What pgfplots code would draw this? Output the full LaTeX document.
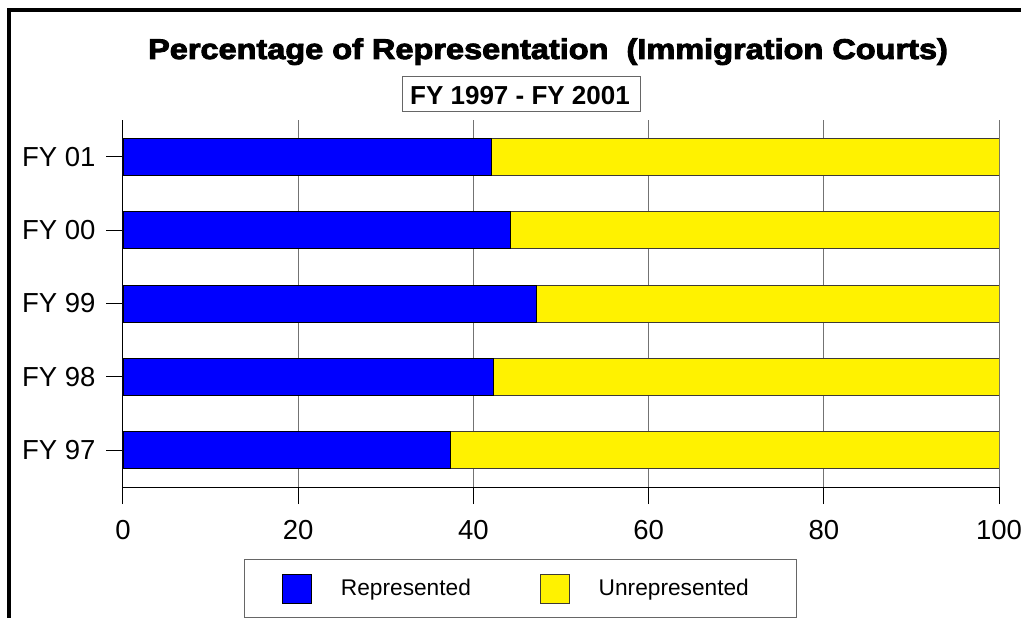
\documentclass[border=0pt]{standalone}
\usepackage{fontspec}
\setmainfont{Liberation Sans}
\newfontfamily\heavyfont[FakeBold=3]{Liberation Sans Bold}
\usepackage{pgfplots}
\pgfplotsset{compat=1.18}
\begin{document}
\begin{tikzpicture}
\path[use as bounding box] (0pt,0pt) rectangle (1021pt,-618pt);
\fill[white] (0pt,0pt) rectangle (1021pt,-618pt);
\draw[line width=3.5pt] (9pt,-618pt) -- (9pt,-10pt) -- (1021pt,-10pt);
\node[font=\fontsize{28.5}{32}\heavyfont, anchor=base, inner sep=0pt, xscale=1.14] at (548pt,-59pt) {Percentage of Representation\ \ (Immigration Courts)};
\draw[black!60, line width=1pt] (402pt,-77pt) rectangle (640pt,-112pt);
\node[font=\fontsize{26}{30}\selectfont\bfseries, anchor=base, inner sep=0pt] at (520pt,-104.5pt) {FY 1997 - FY 2001};
\begin{axis}[
  at={(123pt,-487pt)}, anchor=south west,
  scale only axis, width=876pt, height=367pt,
  xbar stacked, bar width=37pt,
  xmin=0, xmax=100, ymin=-0.5, ymax=4.5,
  axis x line*=bottom, axis y line*=left,
  axis line style={-, black, line width=1pt},
  xtick={0,20,40,60,80,100},
  xticklabels={0,20,40,60,80,100},
  ytick={0,1,2,3,4},
  yticklabels={FY 97,FY 98,FY 99,FY 00,FY 01},
  tick align=outside, major tick length=17pt,
  tick style={black, line width=1pt},
  xmajorgrids, grid style={black!55, line width=1pt},
  ticklabel style={font=\fontsize{27.5}{32}\selectfont},
  xticklabel style={yshift=-13pt},
  yticklabel style={xshift=-7pt},
  legend columns=2,
  legend style={at={(rel axis cs:0.4538,-0.2766)}, anchor=center,
    draw=black!60, line width=1pt,
    font=\fontsize{22.7}{27}\selectfont,
    inner xsep=38pt, inner ysep=14pt,
    /tikz/every odd column/.append style={column sep=29pt},
    /tikz/every even column/.append style={column sep=69pt},
    nodes={inner xsep=0pt, inner ysep=0pt}},
  legend image code/.code={\draw[#1, line width=0.8pt] (0pt,-14.5pt) rectangle (29pt,14.5pt);},
]
\addplot[fill=blue, draw=black, line width=0.8pt] coordinates {(37.4,0) (42.3,1) (47.2,2) (44.2,3) (42.1,4)};
\addplot[fill=yellow, draw=black!75!yellow!50!black, line width=0.8pt] coordinates {(62.6,0) (57.7,1) (52.8,2) (55.8,3) (57.9,4)};
\legend{Represented, Unrepresented\kern10pt}
\end{axis}
\end{tikzpicture}
\end{document}
